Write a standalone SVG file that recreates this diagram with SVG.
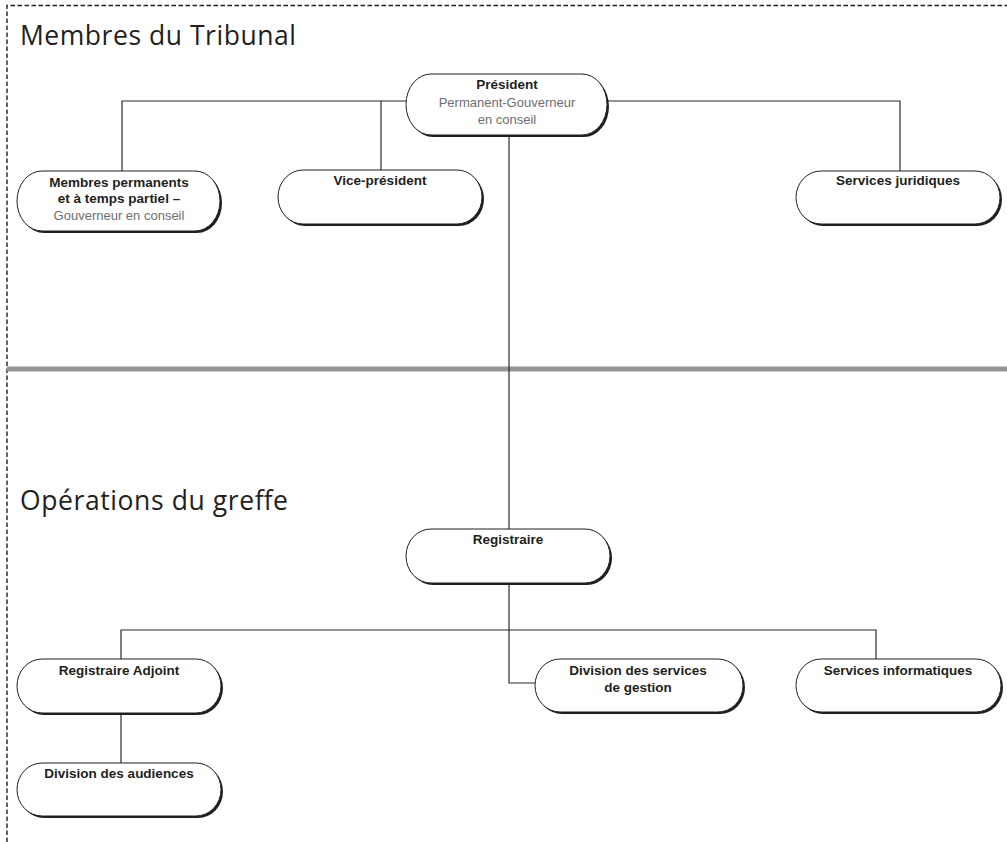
<svg xmlns="http://www.w3.org/2000/svg" width="1007" height="842" viewBox="0 0 1007 842">
<defs>
<style>
.frame{fill:none;stroke:#231f20;stroke-width:1.4;stroke-dasharray:4.5 2.5}
.title{font-family:"Open Sans","Liberation Sans",sans-serif;font-size:26.5px;fill:#231f20}
.conn{fill:none;stroke:#2b2b2b;stroke-width:1.2}
.shadow{fill:#231f20}
.pill{fill:#ffffff;stroke:#231f20;stroke-width:1}
.lbl{font-family:"Liberation Sans",Arial,sans-serif;font-size:13.5px;font-weight:bold;fill:#231f20;text-anchor:middle}
.sub{font-family:"Liberation Sans",Arial,sans-serif;font-size:13px;fill:#6d6e71;text-anchor:middle}
</style>
</defs>
<rect width="1007" height="842" fill="#ffffff"/>
<path class="frame" d="M7,842 V5.5 H1007"/>
<text class="title" x="20" y="44.5" textLength="276" lengthAdjust="spacing">Membres du Tribunal</text>
<text class="title" x="20" y="509.5" textLength="268" lengthAdjust="spacing">Opérations du greffe</text>
<rect x="7" y="366.5" width="1000" height="5" fill="#939598"/>
<g id="connectors">
<path class="conn" d="M122,171 V101 H406"/>
<path class="conn" d="M381,101 V170"/>
<path class="conn" d="M607,101 H900 V171"/>
<path class="conn" d="M509,137 V529"/>
<path class="conn" d="M509,585 V683 H535"/>
<path class="conn" d="M121,659 V630 H876 V659"/>
<path class="conn" d="M121,715 V763"/>
</g>
<g id="president">
<rect class="shadow" x="408" y="76" width="201" height="61" rx="25" ry="30.5"/>
<rect class="pill" x="406" y="74" width="201" height="61" rx="25" ry="30.5"/>
<text class="lbl" x="507" y="89">Président</text>
<text class="sub" x="507" y="107">Permanent-Gouverneur</text>
<text class="sub" x="507" y="124">en conseil</text>
</g>
<g id="membres">
<rect class="shadow" x="19" y="173" width="203" height="60" rx="25" ry="30"/>
<rect class="pill" x="17" y="171" width="203" height="60" rx="25" ry="30"/>
<text class="lbl" x="119" y="187">Membres permanents</text>
<text class="lbl" x="119" y="203">et à temps partiel –</text>
<text class="sub" x="119" y="220">Gouverneur en conseil</text>
</g>
<g id="vice">
<rect class="shadow" x="280" y="172" width="204" height="54" rx="25" ry="27"/>
<rect class="pill" x="278" y="170" width="204" height="54" rx="25" ry="27"/>
<text class="lbl" x="380" y="185">Vice-président</text>
</g>
<g id="juridiques">
<rect class="shadow" x="798" y="173" width="204" height="53" rx="25" ry="26.5"/>
<rect class="pill" x="796" y="171" width="204" height="53" rx="25" ry="26.5"/>
<text class="lbl" x="898" y="185">Services juridiques</text>
</g>
<g id="registraire">
<rect class="shadow" x="408" y="531" width="204" height="54" rx="25" ry="27"/>
<rect class="pill" x="406" y="529" width="204" height="54" rx="25" ry="27"/>
<text class="lbl" x="508" y="544">Registraire</text>
</g>
<g id="adjoint">
<rect class="shadow" x="19" y="661" width="204" height="54" rx="25" ry="27"/>
<rect class="pill" x="17" y="659" width="204" height="54" rx="25" ry="27"/>
<text class="lbl" x="119" y="675">Registraire Adjoint</text>
</g>
<g id="audiences">
<rect class="shadow" x="19" y="765" width="204" height="53" rx="25" ry="26.5"/>
<rect class="pill" x="17" y="763" width="204" height="53" rx="25" ry="26.5"/>
<text class="lbl" x="119" y="778">Division des audiences</text>
</g>
<g id="gestion">
<rect class="shadow" x="537" y="661" width="208" height="53" rx="25" ry="26.5"/>
<rect class="pill" x="535" y="659" width="208" height="53" rx="25" ry="26.5"/>
<text class="lbl" x="638" y="675">Division des services</text>
<text class="lbl" x="638" y="692">de gestion</text>
</g>
<g id="informatiques">
<rect class="shadow" x="798" y="661" width="205" height="53" rx="25" ry="26.5"/>
<rect class="pill" x="796" y="659" width="205" height="53" rx="25" ry="26.5"/>
<text class="lbl" x="898" y="675">Services informatiques</text>
</g>
</svg>
